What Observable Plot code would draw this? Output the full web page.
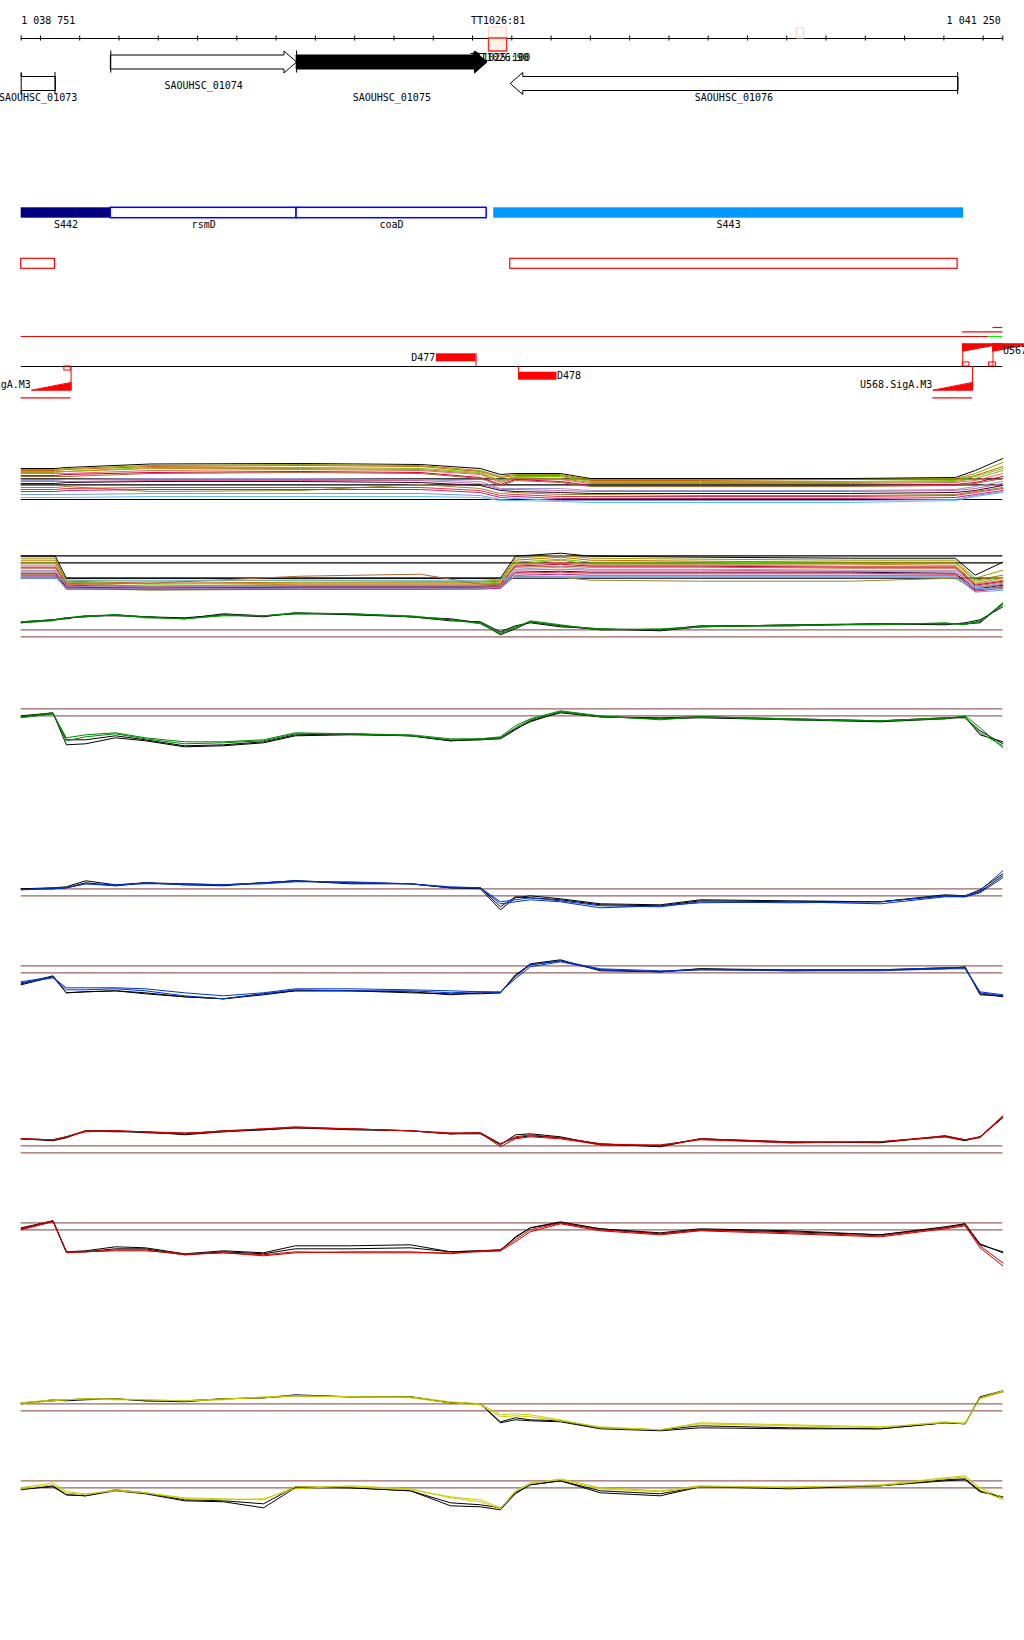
<!DOCTYPE html>
<html><head><meta charset="utf-8">
<script src="https://cdn.jsdelivr.net/npm/d3@7"></script>
<script src="https://cdn.jsdelivr.net/npm/@observablehq/plot@0.6"></script>
<style>
body{margin:0;background:#fff;}
#chart{position:relative;width:1024px;height:1640px;overflow:hidden;background:#fff;}
#chart svg{position:absolute;left:0;}
</style></head><body><div id="chart"></div>
<script>
// ---------------- DATA ----------------
const domainStart = 1038751, domainEnd = 1041250;
const tickValues = d3.range(1038800, 1041201, 100);
const axisLabels = [{pos: 1038751, anchor: "start"}, {pos: 1041250, anchor: "end"}];
const terminatorLabels = [{pos: 1039965, text: "TT1026:81"}];
const terminatorSmall = [{pos: 1039894, text: "TT1025:100"}, {pos: 1039905, text: "TT1026:90"}];
const terminatorBoxes = [{start: 1039942, end: 1039988, strong: true}, {start: 1040726, end: 1040744, strong: false}];

const genes = [
  {name: "SAOUHSC_01073", start: 1038600, end: 1038837, strand: "-"},
  {name: "SAOUHSC_01074", start: 1038979, end: 1039452, strand: "+"},
  {name: "SAOUHSC_01075", start: 1039452, end: 1039937, strand: "+"},
  {name: "SAOUHSC_01076", start: 1039996, end: 1041135, strand: "-"}
];
const highlightedGene = "SAOUHSC_01075";
const raisedLabelGenes = ["SAOUHSC_01074"];

const features = [
  {name: "S442", start: 1038751, end: 1038979, kind: "segment"},
  {name: "rsmD", start: 1038979, end: 1039452, kind: "gene"},
  {name: "coaD", start: 1039452, end: 1039936, kind: "gene"},
  {name: "S443", start: 1039954, end: 1041150, kind: "segment2"}
];
const antisense = [{start: 1038751, end: 1038837}, {start: 1039996, end: 1041135}];

const transcriptSegs = [{start: 1038751, end: 1041214, kind: "red"}, {start: 1041214, end: 1041250, kind: "green"}];
const fragments = [{name: "D477", start: 1039808, end: 1039909, strand: "+"}, {name: "D478", start: 1040017, end: 1040115, strand: "-"}];
const promoters = [
  {name: "U565.SigA.M3", tss: 1038878, strand: "-"},
  {name: "U568.SigA.M3", tss: 1041173, strand: "-"},
  {name: "U567.SigA.M3", tss: 1041148, strand: "+"},
  {name: "U569.SigA.M3", tss: 1041225, strand: "+"}
];
const promoterSpans = [
  {start: 1038700, end: 1038878, strand: "-", level: 0},
  {start: 1041072, end: 1041173, strand: "-", level: 0},
  {start: 1041148, end: 1041250, strand: "+", level: 0},
  {start: 1041225, end: 1041250, strand: "+", level: 1}
];
const boxes = [{start: 1038861, end: 1038878, side: "below"}, {start: 1041148, end: 1041165, side: "above"}, {start: 1041215, end: 1041233, side: "above"}];

// profile panels
const profilePos = [1038751, 1038832, 1038866, 1038915, 1038991, 1039067, 1039167, 1039266, 1039368, 1039449, 1039589, 1039742, 1039844, 1039920, 1039971, 1040009, 1040047, 1040124, 1040225, 1040378, 1040480, 1040709, 1040938, 1041103, 1041154, 1041192, 1041250];

const greenA_k1 = [1.5,1.7,1.8,2.1,2.1,2.0,1.9,2.2,2.0,2.4,2.2,2.0,1.8,1.4,0.2,0.8,1.5,1.1,0.7,0.7,1.1,1.1,1.3,1.3,1.3,1.4,3.3];
const greenA_k2 = [1.4,1.7,1.9,2.0,2.2,2.0,1.8,2.3,2.1,2.3,2.3,2.0,1.6,1.5,0.5,1.1,1.4,1.0,0.8,0.6,1.0,1.2,1.3,1.2,1.4,1.7,3.0];
const greenA_c1 = [1.5,1.7,1.9,2.1,2.2,2.0,1.8,2.2,2.1,2.4,2.3,2.0,1.7,1.4,0.4,1.0,1.5,1.1,0.8,0.7,1.0,1.1,1.3,1.3,1.3,1.5,3.4];
const greenA_c2 = [1.4,1.6,1.9,2.0,2.2,1.9,1.8,2.1,2.1,2.3,2.3,2.1,1.7,1.3,0.3,0.9,1.6,1.2,0.7,0.8,1.0,1.2,1.2,1.4,1.2,1.6,3.2];

const greenB_k1 = [0.0,0.3,-2.9,-2.8,-2.2,-2.5,-3.1,-3.0,-2.7,-2.0,-1.9,-2.0,-2.5,-2.4,-2.3,-1.4,-0.5,0.3,-0.1,-0.3,-0.2,-0.4,-0.6,-0.3,-0.1,-1.9,-2.6];
const greenB_k2 = [-0.1,0.2,-2.4,-2.4,-2.0,-2.4,-3.0,-2.9,-2.6,-1.9,-1.8,-2.0,-2.5,-2.3,-2.2,-1.3,-0.6,0.4,-0.1,-0.2,-0.1,-0.3,-0.5,-0.2,-0.2,-1.5,-2.8];
const greenB_c1 = [-0.1,0.3,-2.5,-2.1,-1.8,-2.3,-2.8,-2.7,-2.5,-1.8,-1.8,-2.0,-2.4,-2.4,-2.2,-1.2,-0.4,0.4,-0.1,-0.3,-0.1,-0.4,-0.5,-0.2,-0.1,-1.7,-3.0];
const greenB_c2 = [-0.2,0.2,-2.2,-1.9,-1.7,-2.2,-2.6,-2.6,-2.4,-1.7,-1.8,-1.9,-2.3,-2.3,-2.1,-1.0,-0.3,0.5,0.0,-0.4,-0.1,-0.3,-0.5,-0.3,0.0,-1.2,-3.2];

const blueA_k1 = [0.7,0.8,0.9,1.5,1.1,1.3,1.2,1.1,1.3,1.5,1.3,1.2,0.8,0.7,-1.4,-0.2,0.0,-0.3,-0.8,-0.9,-0.4,-0.5,-0.6,0.1,0.0,0.6,2.2];
const blueA_k2 = [0.7,0.7,0.8,1.3,1.0,1.3,1.1,1.0,1.3,1.5,1.2,1.2,0.8,0.8,-1.1,-0.1,-0.2,-0.4,-0.9,-1.0,-0.5,-0.6,-0.6,0.0,-0.1,0.4,2.0];
const blueA_c1 = [0.6,0.7,0.8,1.2,1.1,1.2,1.2,1.1,1.3,1.5,1.3,1.2,0.8,0.8,-0.6,-0.4,-0.2,-0.5,-1.0,-1.1,-0.6,-0.7,-0.6,0.0,0.0,0.5,2.5];
const blueA_c2 = [0.6,0.8,0.8,1.2,1.0,1.3,1.1,1.1,1.2,1.4,1.4,1.2,0.9,0.8,-0.8,-0.6,-0.4,-0.6,-1.2,-1.0,-0.7,-0.6,-0.8,-0.1,-0.1,0.3,1.8];

const blueB_k1 = [-1.1,-0.3,-2.0,-1.9,-1.8,-2.1,-2.4,-2.6,-2.1,-1.8,-1.8,-1.9,-2.2,-2.0,-2.0,-0.3,0.9,1.3,0.2,0.1,0.4,0.2,0.3,0.4,0.6,-2.2,-2.3];
const blueB_k2 = [-1.2,-0.4,-2.0,-1.9,-1.8,-2.0,-2.4,-2.6,-2.2,-1.8,-1.8,-2.0,-2.1,-2.1,-2.0,-0.2,0.8,1.2,0.3,0.1,0.4,0.3,0.3,0.5,0.5,-2.1,-2.4];
const blueB_c1 = [-1.0,-0.5,-1.5,-1.5,-1.5,-1.6,-2.0,-2.3,-2.0,-1.6,-1.6,-1.7,-1.8,-1.9,-1.9,-0.6,0.6,1.1,0.3,0.1,0.3,0.2,0.2,0.4,0.4,-2.0,-2.3];
const blueB_c2 = [-0.9,-0.4,-1.7,-1.7,-1.6,-1.8,-2.3,-2.6,-2.1,-1.7,-1.8,-1.8,-2.0,-1.9,-2.0,-0.4,0.8,1.2,0.4,0.2,0.3,0.3,0.3,0.5,0.5,-1.9,-2.2];

const redA_k1 = [1.4,1.2,1.5,2.2,2.1,2.1,1.8,2.1,2.3,2.5,2.3,2.2,1.9,1.9,0.8,1.8,1.9,1.6,0.8,0.7,1.4,1.1,1.0,1.7,1.3,1.6,3.6];
const redA_k2 = [1.4,1.3,1.6,2.2,2.2,2.0,1.9,2.2,2.3,2.5,2.4,2.2,1.9,2.0,0.9,1.5,1.7,1.5,0.9,0.6,1.4,1.0,1.1,1.6,1.2,1.6,3.5];
const redA_c1 = [1.4,1.3,1.6,2.2,2.2,2.1,1.9,2.2,2.4,2.5,2.4,2.2,1.9,2.0,0.9,1.6,1.8,1.5,0.9,0.7,1.4,1.1,1.1,1.7,1.3,1.6,3.7];
const redA_c2 = [1.4,1.3,1.6,2.1,2.2,2.1,2.0,2.1,2.4,2.6,2.4,2.2,2.0,2.0,0.6,1.4,1.6,1.4,0.8,0.8,1.3,1.0,1.1,1.6,1.3,1.5,3.6];

const redB_k1 = [0.1,0.9,-2.2,-2.1,-1.7,-1.8,-2.4,-2.1,-2.3,-1.6,-1.6,-1.5,-2.2,-2.1,-2.0,-0.8,0.2,0.8,0.1,-0.3,0.1,-0.1,-0.5,0.3,0.6,-1.5,-2.2];
const redB_k2 = [0.2,0.9,-2.2,-2.2,-1.9,-1.9,-2.5,-2.2,-2.4,-1.9,-1.9,-1.8,-2.2,-2.1,-2.1,-0.7,0.2,0.7,0.1,-0.4,0.0,-0.2,-0.5,0.2,0.6,-1.4,-2.3];
const redB_c1 = [0.1,0.9,-2.3,-2.2,-2.0,-2.0,-2.5,-2.3,-2.5,-2.2,-2.3,-2.3,-2.3,-2.2,-2.1,-1.2,-0.2,0.6,-0.1,-0.5,-0.1,-0.4,-0.7,0.1,0.4,-1.8,-3.6];
const redB_c2 = [0.0,0.8,-2.2,-2.2,-2.1,-2.1,-2.4,-2.3,-2.6,-2.3,-2.2,-2.2,-2.4,-2.1,-2.0,-1.0,0.0,0.7,0.0,-0.4,0.0,-0.3,-0.6,0.2,0.5,-1.6,-3.3];

const yellowA_k1 = [0.7,1.1,1.0,1.1,1.2,1.0,0.9,1.2,1.3,1.6,1.4,1.4,0.8,0.7,-1.2,-0.9,-1.0,-1.1,-1.8,-2.0,-1.7,-1.8,-1.8,-1.2,-1.3,1.4,2.0];
const yellowA_k2 = [0.8,1.0,1.1,1.2,1.2,1.0,1.0,1.2,1.3,1.5,1.4,1.4,0.8,0.7,-1.1,-0.7,-0.9,-1.0,-1.7,-1.9,-1.5,-1.7,-1.8,-1.2,-1.3,1.3,1.9];
const yellowA_c1 = [0.8,1.1,1.1,1.2,1.2,1.1,1.0,1.2,1.3,1.5,1.4,1.4,0.9,0.7,-0.4,-0.3,-0.4,-0.9,-1.7,-1.9,-1.3,-1.5,-1.7,-1.1,-1.3,1.3,2.0];
const yellowA_c2 = [0.7,1.0,1.1,1.2,1.1,1.1,1.0,1.1,1.4,1.5,1.4,1.3,0.8,0.6,-0.6,-0.5,-0.6,-1.0,-1.6,-1.9,-1.2,-1.4,-1.6,-1.2,-1.2,1.2,1.9];

const yellowB_k1 = [-0.2,0.2,-0.7,-0.8,-0.3,-0.6,-1.3,-1.4,-2.0,0.0,0.0,-0.3,-1.8,-1.9,-2.2,-0.6,0.3,0.7,-0.5,-0.8,0.1,-0.1,0.2,0.7,0.8,-0.4,-0.9];
const yellowB_k2 = [-0.1,0.1,-0.7,-0.8,-0.2,-0.5,-1.2,-1.3,-1.6,0.1,0.0,-0.3,-1.5,-1.7,-2.0,-0.5,0.3,0.7,-0.3,-0.6,0.1,0.0,0.2,0.8,0.9,-0.3,-1.0];
const yellowB_c1 = [0.0,0.5,-0.4,-0.6,-0.3,-0.5,-1.0,-1.1,-1.2,0.1,0.1,-0.2,-0.9,-1.2,-2.0,-0.4,0.4,0.9,0.0,-0.3,0.2,0.0,0.3,1.0,1.2,0.0,-1.0];
const yellowB_c2 = [-0.1,0.3,-0.5,-0.7,-0.2,-0.5,-1.1,-1.2,-1.1,-0.1,0.2,-0.1,-1.0,-1.4,-2.1,-0.3,0.5,0.8,-0.1,-0.4,0.1,0.1,0.2,0.9,1.1,-0.2,-1.2];

// multi-sample panels
const multiPos = [1038751, 1038838, 1038866, 1039080, 1039462, 1039767, 1039920, 1039971, 1040009, 1040124, 1040200, 1040480, 1040862, 1041129, 1041180, 1041250];
const multiColors = ["#000000","#999900","#cc6600","#66cc00","#aa9922","#ee6655","#cc0044","#aa6633","#9999cc","#cc6699","#330033","#998833","#ee3333","#bb2288","#66bbee","#7799dd"];
const multiA = [
  [3.1,3.1,3.2,3.55,3.6,3.5,3.1,2.5,2.6,2.6,2.1,2.1,2.1,2.2,2.9,4.1],
  [3.0,3.0,3.1,3.4,3.5,3.4,2.9,2.3,2.5,2.5,2.0,2.0,2.0,2.1,2.6,3.7],
  [2.9,2.9,3.0,3.3,3.4,3.3,2.8,2.2,2.4,2.4,1.9,1.9,2.0,2.0,2.4,3.3],
  [2.8,2.8,2.8,3.2,3.2,3.1,2.7,1.9,2.3,2.3,1.8,1.8,1.8,1.9,2.3,3.1],
  [2.7,2.7,2.8,3.1,3.1,3.0,2.6,1.8,2.2,2.1,1.7,1.7,1.7,1.8,2.1,2.9],
  [2.6,2.6,2.6,2.9,3.0,2.9,2.5,1.7,2.1,2.0,1.6,1.6,1.6,1.7,1.9,2.6],
  [2.4,2.4,2.5,2.7,2.8,2.7,2.2,1.5,2.0,1.8,1.4,1.4,1.4,1.5,1.7,2.3],
  [2.3,2.3,2.3,2.6,2.7,2.6,2.1,1.4,1.9,1.7,1.3,1.3,1.3,1.4,1.6,2.1],
  [1.9,1.9,2.0,2.1,2.1,2.0,1.8,1.1,1.1,1.1,0.9,0.9,0.9,1.0,1.3,1.8],
  [1.8,1.8,1.8,1.9,1.9,1.9,1.6,1.0,1.0,0.9,0.8,0.8,0.8,0.9,1.1,1.6],
  [1.6,1.6,1.7,1.8,1.8,1.7,1.4,0.9,0.8,0.7,0.6,0.6,0.6,0.7,0.9,1.4],
  [1.2,1.2,1.3,0.8,0.9,1.5,1.1,0.6,0.7,0.5,0.5,0.4,0.4,0.5,0.8,1.2],
  [1.0,1.0,1.1,1.2,1.2,1.2,0.9,0.4,0.5,0.3,0.3,0.3,0.3,0.4,0.7,1.1],
  [0.8,0.8,0.9,1.0,1.0,1.0,0.7,0.2,0.3,0.1,0.1,0.1,0.1,0.2,0.5,0.9],
  [0.2,0.2,0.2,0.3,0.3,0.3,0.2,-0.1,-0.1,-0.2,-0.3,-0.3,-0.3,-0.1,0.3,0.7],
  [0.5,0.5,0.5,0.6,0.6,0.6,0.4,0.0,0.1,-0.1,-0.1,-0.1,-0.1,0.0,0.4,0.8]
];
const multiB = [
  [2.2,2.2,0.0,0.0,0.0,0.0,0.0,0.0,2.2,2.5,2.2,2.1,2.0,2.0,0.3,1.6],
  [2.0,2.0,-0.2,-0.3,-0.2,-0.3,-0.3,-0.2,2.0,2.3,2.0,1.9,1.8,1.8,0.0,0.8],
  [1.8,1.8,-0.3,-0.5,-0.4,-0.4,-0.4,-0.3,1.8,2.1,1.8,1.7,1.6,1.6,-0.2,0.3],
  [1.6,1.6,-0.4,-0.6,-0.5,-0.5,-0.5,-0.4,1.6,1.9,1.6,1.6,1.5,1.5,-0.3,0.1],
  [1.5,1.5,-0.5,-0.8,-0.6,-0.6,-0.6,-0.5,1.4,1.8,1.4,1.4,1.4,1.3,-0.5,0.0],
  [1.3,1.3,-0.6,-0.8,-0.7,-0.7,-0.7,-0.6,1.3,1.6,1.3,1.3,1.2,1.2,-0.6,-0.2],
  [1.1,1.1,-0.7,-0.9,-0.8,-0.8,-0.8,-0.7,1.2,1.4,1.2,1.2,1.1,1.1,-0.7,-0.3],
  [1.0,1.0,-0.5,-0.5,0.2,0.4,-0.6,-0.6,1.1,1.2,1.1,1.1,1.0,1.0,-0.8,-0.4],
  [0.8,0.8,-0.8,-0.9,-0.8,-0.8,-0.8,-0.8,0.9,1.1,0.9,0.9,0.8,0.8,-0.9,-0.5],
  [0.7,0.7,-0.9,-1.0,-0.9,-0.9,-0.9,-0.8,0.8,0.9,0.8,0.8,0.7,0.7,-1.0,-0.6],
  [0.5,0.5,-0.9,-1.0,-0.9,-0.9,-0.9,-0.9,0.6,0.7,0.6,0.6,0.6,0.5,-1.1,-0.7],
  [0.4,0.4,-1.0,-1.2,-1.1,-1.1,-1.0,-1.0,0.2,0.1,-0.2,-0.3,-0.3,0.0,-1.2,-0.8],
  [0.3,0.3,-1.0,-1.1,-1.0,-1.0,-1.0,-0.9,0.5,0.6,0.5,0.5,0.5,0.4,-1.2,-0.9],
  [0.2,0.2,-1.1,-1.1,-1.1,-1.1,-1.1,-1.0,0.3,0.4,0.3,0.3,0.3,0.3,-1.3,-1.0],
  [0.0,0.0,-0.2,-0.2,-0.2,-0.2,-0.2,-0.1,0.1,0.1,0.1,0.1,0.1,0.1,-1.0,-1.1],
  [0.1,0.1,-1.0,-1.0,-1.0,-1.0,-1.0,-0.9,0.2,0.2,0.2,0.2,0.2,0.2,-1.4,-1.2]
];
const multiA_refs = [2.07, 1.47, 0];
const multiB_refs = [2.24, 1.54, 0];
const pairRefs = [0.7, 0];

// ---------------- LAYOUT / STYLE ----------------
const W = 1024, ML = 20.7, MR = 21.7;
const FONT = "DejaVu Sans Mono";
const L = {
  axisY: 38, tickHalf: 2.5, axisLabelY: 20, termSmallY: 57.5,
  fwdY: 61.5, revY: 83, bodyHalf: 7, headHalf: 11, headLen: 32,
  labelHigh: 85.2, labelLow: 97.2,
  featY1: 207.3, featY2: 217.7, featLabelY: 224.2,
  antiY1: 258.3, antiY2: 268.3,
  transcriptY: 336, trackAxisY: 366,
  fragUp: [353.3, 361.3], fragDown: [371.7, 379.7],
  rampTop: 343.3, rampBottom: 389.7, rampThick: 7.4, rampLen: 100,
  spanUp: [331.3, 327], spanDown: 397.3, boxH: 4,
  promLabelDown: 383.8, promLabelUp: 350.5
};
const chart = document.getElementById("chart");
const clampX = x => Math.max(domainStart, Math.min(domainEnd, x));
const fmt = d3.formatLocale({thousands: " ", grouping: [3], decimal: ".", currency: ["", ""]}).format(",");
const textOpts = {fontFamily: FONT, fontSize: 10, fill: "black"};

// ---------------- ANNOTATION TRACKS ----------------
function genePoly(g) {
  const yc = g.strand === "+" ? L.fwdY : L.revY, b = L.bodyHalf, h = L.headHalf;
  let pts;
  if (g.strand === "+") {
    const hs = g.end - L.headLen;
    pts = [[g.start, yc - b], [hs, yc - b], [hs, yc - h], [g.end, yc], [hs, yc + h], [hs, yc + b], [g.start, yc + b]];
  } else {
    const hs = g.start + L.headLen;
    pts = [[g.end, yc - b], [hs, yc - b], [hs, yc - h], [g.start, yc], [hs, yc + h], [hs, yc + b], [g.end, yc + b]];
  }
  return pts.map(([x, y]) => ({x: clampX(x), y}));
}
function rampPoly(p) {
  if (p.strand === "-") {
    return [{x: clampX(p.tss - L.rampLen), y: L.rampBottom}, {x: clampX(p.tss), y: L.rampBottom}, {x: clampX(p.tss), y: L.rampBottom - L.rampThick}];
  }
  return [{x: clampX(p.tss), y: L.rampTop}, {x: p.tss + L.rampLen, y: L.rampTop}, {x: clampX(p.tss), y: L.rampTop + L.rampThick}];
}
const fwdFrag = fragments.filter(d => d.strand === "+"), revFrag = fragments.filter(d => d.strand === "-");

const annoH = 410;
const annoMarks = [
  // axis
  Plot.ruleY([L.axisY], {y: d => d, x1: () => domainStart, x2: () => domainEnd, stroke: "black"}),
  Plot.ruleX(tickValues.concat([domainStart, domainEnd]), {x: d => d, y1: () => L.axisY - L.tickHalf, y2: () => L.axisY + L.tickHalf, stroke: "black"}),
  Plot.text(axisLabels.filter(d => d.anchor === "start"), {x: "pos", y: () => L.axisLabelY, text: d => fmt(d.pos), textAnchor: "start", ...textOpts}),
  Plot.text(axisLabels.filter(d => d.anchor === "end"), {x: "pos", y: () => L.axisLabelY, text: d => fmt(d.pos), textAnchor: "end", dx: -2, ...textOpts}),
  Plot.text(terminatorLabels, {x: "pos", y: () => L.axisLabelY, text: "text", ...textOpts}),
  // terminator boxes
  Plot.rect(terminatorBoxes.filter(d => d.strong), {x1: "start", x2: "end", y1: () => L.axisY - 11, y2: () => L.axisY, fill: "#fff6f2", stroke: "#f8d8cc"}),
  Plot.rect(terminatorBoxes.filter(d => d.strong), {x1: "start", x2: "end", y1: () => L.axisY, y2: () => L.axisY + 13, fill: "#fff0ea", stroke: "#ee3322", strokeWidth: 1.5}),
  Plot.rect(terminatorBoxes.filter(d => !d.strong), {x1: "start", x2: "end", y1: () => L.axisY - 10, y2: () => L.axisY, fill: "none", stroke: "#f8d8cc"}),
  // genes
  ...genes.map(g => Plot.line(genePoly(g), {x: "x", y: "y", curve: "linear-closed", stroke: "black", strokeWidth: 1, fill: g.name === highlightedGene ? "black" : "white"})),
  Plot.ruleX(genes, {x: d => clampX(d.strand === "+" ? d.start : d.end), y1: d => (d.strand === "+" ? L.fwdY : L.revY) - L.headHalf, y2: d => (d.strand === "+" ? L.fwdY : L.revY) + L.headHalf, stroke: "black"}),
  Plot.text(genes, {x: d => (clampX(d.start) + clampX(d.end)) / 2, y: d => raisedLabelGenes.includes(d.name) ? L.labelHigh : L.labelLow, text: "name", ...textOpts}),
  Plot.text(terminatorSmall, {x: "pos", y: () => L.termSmallY, text: "text", textAnchor: "start", ...textOpts}),
  Plot.text(terminatorSmall.slice(0, 1), {x: "pos", y: () => L.termSmallY - 2, text: () => "*", textAnchor: "start", dx: 2, fontFamily: FONT, fontSize: 12, fontWeight: "bold"}),
  // feature track
  Plot.rect(features, {x1: d => clampX(d.start), x2: d => clampX(d.end), y1: () => L.featY1, y2: () => L.featY2,
    fill: d => d.kind === "segment" ? "#000080" : d.kind === "segment2" ? "#0099ff" : "white",
    stroke: d => d.kind === "gene" ? "#0000ff" : "none", strokeWidth: 1.5}),
  Plot.text(features, {x: d => (clampX(d.start) + clampX(d.end)) / 2, y: () => L.featLabelY, text: "name", ...textOpts}),
  Plot.rect(antisense, {x1: "start", x2: "end", y1: () => L.antiY1, y2: () => L.antiY2, fill: "none", stroke: "#ff0000", strokeWidth: 1.2}),
  // transcript / fragment track
  Plot.ruleY(transcriptSegs, {y: () => L.transcriptY, x1: "start", x2: "end", stroke: d => d.kind === "red" ? "#ff0000" : "#00ee00", strokeWidth: 1.2}),
  Plot.ruleY(promoterSpans, {y: d => d.strand === "+" ? L.spanUp[d.level] : L.spanDown, x1: d => clampX(d.start), x2: d => clampX(d.end), stroke: "#ff0000", strokeWidth: 1.2}),
  Plot.ruleY([L.trackAxisY], {y: d => d, x1: () => domainStart, x2: () => domainEnd, stroke: "black", strokeWidth: 1.2}),
  Plot.rect(fwdFrag, {x1: "start", x2: "end", y1: () => L.fragUp[0], y2: () => L.fragUp[1], fill: "#ff0000"}),
  Plot.rect(revFrag, {x1: "start", x2: "end", y1: () => L.fragDown[0], y2: () => L.fragDown[1], fill: "#ff0000"}),
  Plot.ruleX(fwdFrag, {x: "end", y1: () => L.fragUp[0], y2: () => L.trackAxisY, stroke: "#ff0000"}),
  Plot.ruleX(revFrag, {x: "start", y1: () => L.trackAxisY, y2: () => L.fragDown[0], stroke: "#ff0000"}),
  Plot.text(fwdFrag, {x: "start", y: () => (L.fragUp[0] + L.fragUp[1]) / 2, text: "name", textAnchor: "end", dx: -1, ...textOpts}),
  Plot.text(revFrag, {x: "end", y: () => (L.fragDown[0] + L.fragDown[1]) / 2, text: "name", textAnchor: "start", dx: 0, ...textOpts}),
  ...promoters.map(p => Plot.line(rampPoly(p), {x: "x", y: "y", curve: "linear-closed", fill: "#ff0000", stroke: "#ff0000", strokeWidth: 1})),
  Plot.ruleX(promoters, {x: "tss", y1: d => d.strand === "+" ? L.rampTop : L.trackAxisY, y2: d => d.strand === "+" ? L.trackAxisY : L.rampBottom, stroke: "#ff0000"}),
  Plot.rect(boxes, {x1: "start", x2: "end", y1: d => d.side === "above" ? L.trackAxisY - L.boxH : L.trackAxisY, y2: d => d.side === "above" ? L.trackAxisY : L.trackAxisY + L.boxH, fill: "none", stroke: "#ff0000", strokeWidth: 1}),
  Plot.text(promoters.filter(p => p.strand === "-"), {x: d => d.tss - L.rampLen, y: () => L.promLabelDown, text: "name", textAnchor: "end", dx: -1, ...textOpts}),
  Plot.text(promoters.filter(p => p.strand === "+"), {x: d => d.tss + L.rampLen, y: () => L.promLabelUp, text: "name", textAnchor: "start", dx: 1, ...textOpts})
];
const anno = Plot.plot({
  width: W, height: annoH, marginTop: 0, marginBottom: 0, marginLeft: ML, marginRight: MR,
  style: {background: "transparent", overflow: "visible"},
  x: {domain: [domainStart, domainEnd], axis: null},
  y: {domain: [0, annoH], range: [0, annoH], axis: null},
  marks: annoMarks
});
anno.style.top = "0px";
chart.append(anno);

// ---------------- PROFILE PANELS ----------------
const rows = (pos, vals) => pos.map((p, i) => ({pos: p, v: vals[i]}));
function panel({top, height, base, pos, series, refs, refColor}) {
  const yMax = (base - top) / 10, yMin = (base - top - height) / 10;
  const svg = Plot.plot({
    width: W, height, marginTop: 0, marginBottom: 0, marginLeft: ML, marginRight: MR,
    style: {background: "transparent", overflow: "visible"},
    x: {domain: [domainStart, domainEnd], axis: null},
    y: {domain: [yMin, yMax], axis: null},
    marks: [
      Plot.ruleY(refs, {y: d => d, x1: () => domainStart, x2: () => domainEnd, stroke: refColor, strokeWidth: 1.2}),
      ...series.map(s => Plot.line(rows(pos, s.values), {x: "pos", y: "v", stroke: s.color, strokeWidth: 1}))
    ]
  });
  svg.style.top = top + "px";
  chart.append(svg);
}
const BROWN = "#9a6464";
const pair = (k1, k2, c1, c2, col) => [{values: k1, color: "black"}, {values: k2, color: "black"}, {values: c1, color: col}, {values: c2, color: col}];

panel({top: 440, height: 80, base: 499, pos: multiPos, refs: multiA_refs, refColor: "black", series: multiA.map((v, i) => ({values: v, color: multiColors[i]}))});
panel({top: 530, height: 80, base: 577.7, pos: multiPos, refs: multiB_refs, refColor: "black", series: multiB.map((v, i) => ({values: v, color: multiColors[i]}))});
panel({top: 590, height: 60, base: 636.3, pos: profilePos, refs: pairRefs, refColor: BROWN, series: pair(greenA_k1, greenA_k2, greenA_c1, greenA_c2, "#008800")});
panel({top: 690, height: 70, base: 715.3, pos: profilePos, refs: pairRefs, refColor: BROWN, series: pair(greenB_k1, greenB_k2, greenB_c1, greenB_c2, "#008800")});
panel({top: 860, height: 60, base: 895.3, pos: profilePos, refs: pairRefs, refColor: BROWN, series: pair(blueA_k1, blueA_k2, blueA_c1, blueA_c2, "#0033cc")});
panel({top: 940, height: 70, base: 972.3, pos: profilePos, refs: pairRefs, refColor: BROWN, series: pair(blueB_k1, blueB_k2, blueB_c1, blueB_c2, "#0033cc")});
panel({top: 1100, height: 70, base: 1152.3, pos: profilePos, refs: pairRefs, refColor: BROWN, series: pair(redA_k1, redA_k2, redA_c1, redA_c2, "#cc0000")});
panel({top: 1200, height: 80, base: 1229.3, pos: profilePos, refs: pairRefs, refColor: BROWN, series: pair(redB_k1, redB_k2, redB_c1, redB_c2, "#cc0000")});
panel({top: 1380, height: 60, base: 1410.3, pos: profilePos, refs: pairRefs, refColor: BROWN, series: pair(yellowA_k1, yellowA_k2, yellowA_c1, yellowA_c2, "#c8cc00")});
panel({top: 1460, height: 60, base: 1487.3, pos: profilePos, refs: pairRefs, refColor: BROWN, series: pair(yellowB_k1, yellowB_k2, yellowB_c1, yellowB_c2, "#c8cc00")});
</script></body></html>
